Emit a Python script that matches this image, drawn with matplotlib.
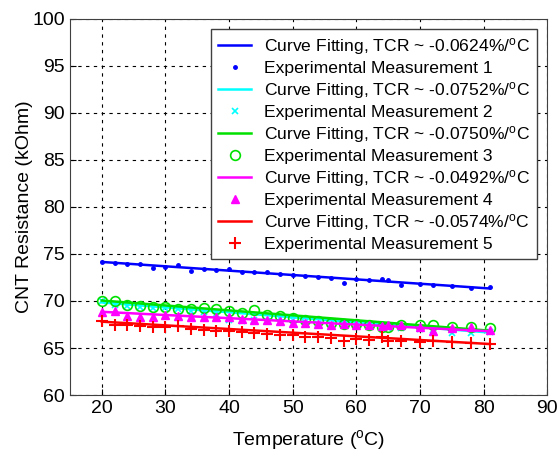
import numpy as np
import matplotlib
matplotlib.use('Agg')
import matplotlib.pyplot as plt

plt.rcParams['font.family'] = ['Liberation Sans', 'DejaVu Sans']
plt.rcParams['mathtext.default'] = 'regular'

# Temperature sweep (deg C)
temps = [20, 22, 24, 26, 28, 30, 32, 34, 36, 38, 40, 42, 44, 46, 48, 50,
         52, 54, 56, 58, 60, 62, 64, 65, 67, 70, 72, 75, 78, 81]

# Measured resistance (kOhm) for the five samples
meas1 = [74.15, 74.0, 73.95, 73.9, 73.5, 73.65, 73.8, 73.2, 73.45, 73.3,
         73.4, 73.1, 73.05, 73.1, 72.85, 72.75, 72.65, 72.6, 72.45, 71.95,
         72.35, 72.2, 72.3, 72.25, 71.75, 71.85, 71.7, 71.55, 71.35, 71.5]
meas2 = [69.95, 69.6, 69.5, 69.4, 69.3, 69.3, 69.1, 68.95, 68.8, 68.6,
         68.0, 67.9, 67.95, 67.9, 68.15, 68.0, 67.75, 67.6, 67.55, 67.45,
         67.45, 67.3, 67.2, 67.15, 67.1, 67.05, 66.95, 66.55, 66.6, 66.7]
meas3 = [70.05, 69.95, 69.6, 69.5, 69.4, 69.35, 69.2, 69.15, 69.25, 69.2,
         68.95, 68.75, 69.0, 68.55, 68.4, 68.2, 67.95, 67.85, 67.7, 67.55,
         67.6, 67.5, 67.25, 67.25, 67.4, 67.4, 67.4, 67.25, 67.25, 67.1]
meas4 = [68.85, 68.9, 68.4, 68.35, 68.3, 68.5, 68.45, 68.35, 68.3, 68.25,
         68.3, 68.1, 68.0, 67.95, 67.85, 67.7, 67.65, 67.6, 67.5, 67.55,
         67.5, 67.45, 67.35, 67.5, 67.45, 67.2, 66.85, 67.1, 67.2, 66.9]
meas5 = [67.9, 67.5, 67.45, 67.35, 67.25, 67.2, 67.3, 67.0, 66.9, 66.85,
         66.8, 66.7, 66.6, 66.5, 66.35, 66.4, 66.2, 66.15, 66.1, 65.7,
         66.0, 65.9, 66.15, 65.7, 65.8, 65.65, 65.7, 65.6, 65.55, 65.4]

# Fitted resistance at 20 C and TCR (%/C) for each sample
r20 = [74.15, 69.85, 70.05, 68.85, 67.8]
tcr = [-0.0624, -0.0752, -0.0750, -0.0492, -0.0574]

colors = ['blue', 'cyan', '#00e000', 'magenta', 'red']
markers = [dict(marker='.', ms=5),
           dict(marker='x', ms=4, mew=1.2),
           dict(marker='o', ms=7, mfc='none', mew=1.2),
           dict(marker='^', ms=6),
           dict(marker='+', ms=8, mew=1.5)]
data = [meas1, meas2, meas3, meas4, meas5]

fig = plt.figure(figsize=(5.6, 4.51), dpi=100)
ax = fig.add_axes([0.125, 0.124, 0.852, 0.8345])

t = np.array(temps, dtype=float)
for i in range(5):
    fit = r20[i] * (1 + tcr[i] / 100 * (t - 20))
    ax.plot(t, fit, '-', color=colors[i], lw=1.8,
            label='Curve Fitting, TCR ~ %.4f%%/$^{o}$C' % tcr[i])
    ax.plot(t, data[i], ls='none', color=colors[i], **markers[i],
            label='Experimental Measurement %d' % (i + 1))

ax.set_xlim(15, 90)
ax.set_ylim(60, 100)
ax.set_xticks(range(20, 91, 10))
ax.set_yticks(range(60, 101, 5))
ax.grid(True, ls=(0, (3, 4)), color='black', lw=0.8)
ax.tick_params(direction='in', labelsize=14, length=4)
for s in ax.spines.values():
    s.set_color('#404040')

ax.set_xlabel('Temperature ($^{o}$C)', fontsize=14, labelpad=8)
ax.set_ylabel('CNT Resistance (kOhm)', fontsize=14, labelpad=0)

leg = ax.legend(loc='upper right', fontsize=12.6, labelspacing=0.22,
                handlelength=1.9, handletextpad=0.7, borderaxespad=0.6,
                fancybox=False, framealpha=1, edgecolor='#404040')
leg.get_frame().set_linewidth(1.0)

fig.savefig('out.png', dpi=100)
